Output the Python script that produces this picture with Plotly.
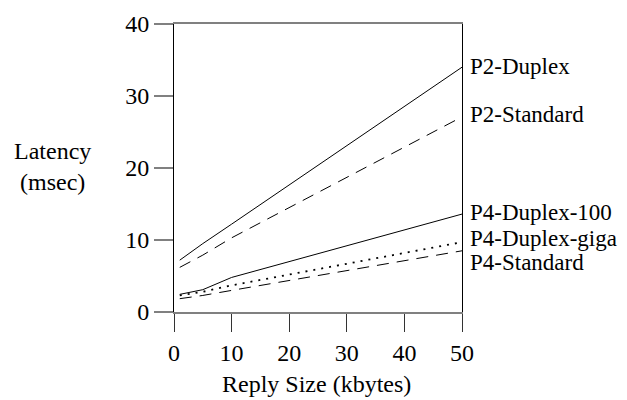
import plotly.graph_objects as go

reply_kb = [1, 5, 10, 50]
p2_duplex = [7.2, 9.5, 12.2, 34.0]
p2_standard = [6.2, 7.9, 10.3, 27.1]
p4_duplex_100 = [2.45, 3.1, 4.8, 13.6]
p4_duplex_giga = [2.3, 2.8, 3.7, 9.7]
p4_standard = [1.85, 2.3, 3.0, 8.5]

series_names = ["P2-Duplex", "P2-Standard", "P4-Duplex-100", "P4-Duplex-giga", "P4-Standard"]
series_vals = [p2_duplex, p2_standard, p4_duplex_100, p4_duplex_giga, p4_standard]
series_dash = ["solid", "12px,8px", "solid", "2px,6px", "12px,8px"]
series_width = [1, 1, 1, 1.8, 1]
label_y = [34.1, 27.5, 13.8, 10.2, 6.85]

x_ticks = [0, 10, 20, 30, 40, 50]
y_ticks = [0, 10, 20, 30, 40]

FONT = "Liberation Serif"
FS = 24
LABEL_FS = 23

fig = go.Figure()
for name, vals, dash, w in zip(series_names, series_vals, series_dash, series_width):
    fig.add_trace(go.Scatter(x=reply_kb, y=vals, mode="lines", name=name,
                             line=dict(color="black", width=w, dash=dash)))

for name, ly in zip(series_names, label_y):
    fig.add_annotation(x=50, y=ly, xref="x", yref="y", text=name, showarrow=False,
                       xanchor="left", yanchor="middle", xshift=6,
                       font=dict(family=FONT, size=LABEL_FS, color="black"))

fig.add_annotation(xref="paper", yref="paper", x=(52 - 174) / 288, y=(312 - 166) / 288,
                   text="Latency<br>(msec)", showarrow=False, xanchor="center", yanchor="middle",
                   font=dict(family=FONT, size=FS, color="black"))
fig.add_annotation(xref="paper", yref="paper", x=(316 - 174) / 288, y=(312 - 384) / 288,
                   text="Reply Size (kbytes)", showarrow=False, xanchor="center", yanchor="middle",
                   font=dict(family=FONT, size=FS, color="black"))

fig.update_layout(
    width=627, height=400,
    margin=dict(l=166, r=173, t=16, b=96, autoexpand=False),
    paper_bgcolor="white", plot_bgcolor="white",
    showlegend=False,
    font=dict(family=FONT, size=FS, color="black"),
    xaxis=dict(range=[0, 50], tickvals=x_ticks, showgrid=False, zeroline=False,
               showline=True, linecolor="#808080", linewidth=1.5, mirror=True,
               ticks="outside", ticklen=18, tickcolor="#333333", tickwidth=1,
               automargin=False),
    yaxis=dict(range=[0, 40], tickvals=y_ticks, showgrid=False, zeroline=False,
               showline=True, linecolor="black", linewidth=1, mirror=True,
               ticks="outside", ticklen=19, tickcolor="#808080", tickwidth=1.5,
               automargin=False),
)

fig.write_html("out.html")
